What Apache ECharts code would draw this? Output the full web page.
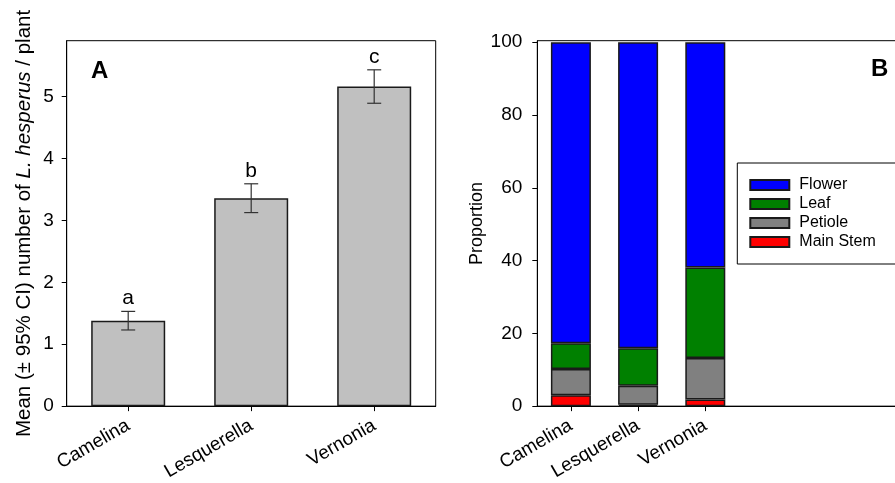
<!DOCTYPE html>
<html>
<head>
<meta charset="utf-8">
<script src="https://cdn.jsdelivr.net/npm/echarts@6/dist/echarts.min.js"></script>
<style>
  html, body { margin: 0; padding: 0; background: #fff; overflow: hidden; }
  #main { width: 950px; height: 483px; }
</style>
</head>
<body>
<div id="main"></div>
<script>
const categories = ["Camelina", "Lesquerella", "Vernonia"];
const meanCount = [1.38, 3.355, 5.16];
const ciLow = [1.23, 3.125, 4.89];
const ciHigh = [1.53, 3.59, 5.43];
const groupLetters = ["a", "b", "c"];
const mainStem = [3.0, 0.4, 1.8];
const petiole = [7.2, 5.2, 11.4];
const leaf = [7.1, 10.3, 24.9];
const flower = [82.7, 84.1, 61.9];
const leftTicks = [0, 1, 2, 3, 4, 5];
const rightTicks = [0, 20, 40, 60, 80, 100];

const FONT = "Liberation Sans, Arial, sans-serif";

let dom = document.getElementById("main");
let myChart = echarts.init(dom, null, { renderer: "canvas" });

// right panel has empty slots after the three plants
let rightCats = categories.concat(["", "", ""]);

let axisLine = { show: true, lineStyle: { color: "#000", width: 1 } };
let tick = { show: true, inside: false, length: 5, lineStyle: { color: "#000" } };
let barEdge = { borderColor: "#1a1a1a", borderWidth: 1.5 };

let option = {
    animation: false,
    textStyle: { fontFamily: FONT },
    grid: [
        { left: 66.7, top: 40.7, width: 369, height: 367.6, show: true, borderColor: "#000", borderWidth: 1, backgroundColor: "transparent" },
        { left: 537.3, top: 40.7, width: 403.2, height: 367.6, show: true, borderColor: "#000", borderWidth: 1, backgroundColor: "transparent" },
    ],
    xAxis: [{
        gridIndex: 0,
        type: "category",
        data: categories,
        axisLine: axisLine,
        axisTick: Object.assign({ alignWithLabel: true }, tick),
        axisLabel: { rotate: 30, fontSize: 19, color: "#000", margin: 18, fontFamily: FONT },
    }, {
        gridIndex: 1,
        type: "category",
        data: rightCats,
        axisLine: axisLine,
        axisTick: Object.assign({ alignWithLabel: true, interval: (i) => i < categories.length }, tick),
        axisLabel: { rotate: 30, fontSize: 19, color: "#000", margin: 18, interval: 0, fontFamily: FONT },
    }],
    yAxis: [{
        gridIndex: 0,
        type: "value",
        min: 0,
        max: 5.9,
        axisLine: axisLine,
        axisTick: Object.assign({ customValues: leftTicks }, tick),
        axisLabel: { customValues: leftTicks, fontSize: 19, color: "#000", margin: 13, fontFamily: FONT },
        splitLine: { show: false },
        name: "{n|Mean (± 95% CI) number of }{i|L. hesperus}{n| / plant}",
        nameLocation: "middle",
        nameRotate: 90,
        nameGap: 32,
        nameTextStyle: {
            rich: {
                n: { fontSize: 20.5, color: "#000", fontFamily: FONT },
                i: { fontSize: 20.5, color: "#000", fontStyle: "italic", fontFamily: FONT },
            },
        },
    }, {
        gridIndex: 1,
        type: "value",
        min: 0,
        max: 100.4,
        axisLine: axisLine,
        axisTick: Object.assign({ customValues: rightTicks }, tick),
        axisLabel: { customValues: rightTicks, fontSize: 19, color: "#000", margin: 15, fontFamily: FONT },
        splitLine: { show: false },
        name: "Proportion",
        nameLocation: "middle",
        nameRotate: 90,
        nameGap: 51,
        nameTextStyle: { fontSize: 18, color: "#000", fontFamily: FONT },
    }],
    legend: {
        orient: "vertical",
        left: 737.3,
        top: 163,
        data: ["Flower", "Leaf", "Petiole", "Main Stem"],
        icon: "rect",
        itemWidth: 39,
        itemHeight: 10,
        itemGap: 3,
        padding: [14, 60, 14, 12],
        borderColor: "#000",
        borderWidth: 1,
        textStyle: { fontSize: 16, color: "#000", lineHeight: 16, padding: [0, 0, 0, 5], fontFamily: FONT },
    },
    graphic: [
        { type: "text", x: 91, y: 71, style: { text: "A", font: "bold 24px " + FONT, fill: "#000", verticalAlign: "middle" } },
        { type: "text", x: 871, y: 69, style: { text: "B", font: "bold 24px " + FONT, fill: "#000", verticalAlign: "middle" } },
    ],
    series: [{
        type: "bar",
        xAxisIndex: 0,
        yAxisIndex: 0,
        data: meanCount,
        barWidth: 74,
        itemStyle: Object.assign({ color: "#c0c0c0" }, barEdge),
    }, {
        type: "custom",
        xAxisIndex: 0,
        yAxisIndex: 0,
        data: categories.map((c, i) => [i, ciLow[i], ciHigh[i]]),
        renderItem: function (params, api) {
            let x = api.value(0);
            let lo = api.coord([x, api.value(1)]);
            let hi = api.coord([x, api.value(2)]);
            let st = { stroke: "#333", lineWidth: 1.2 };
            return {
                type: "group",
                children: [
                    { type: "line", shape: { x1: lo[0], y1: lo[1], x2: hi[0], y2: hi[1] }, style: st },
                    { type: "line", shape: { x1: lo[0] - 7, y1: lo[1], x2: lo[0] + 7, y2: lo[1] }, style: st },
                    { type: "line", shape: { x1: hi[0] - 7, y1: hi[1], x2: hi[0] + 7, y2: hi[1] }, style: st },
                    { type: "text", x: hi[0], y: hi[1] - 13, style: { text: groupLetters[params.dataIndex], font: "21px " + FONT, fill: "#000", align: "center", verticalAlign: "middle" } },
                ],
            };
        },
        z: 5,
    },
    { name: "Main Stem", type: "bar", stack: "p", xAxisIndex: 1, yAxisIndex: 1, data: mainStem, barWidth: 40, itemStyle: Object.assign({ color: "#ff0000" }, barEdge) },
    { name: "Petiole", type: "bar", stack: "p", xAxisIndex: 1, yAxisIndex: 1, data: petiole, barWidth: 40, itemStyle: Object.assign({ color: "#808080" }, barEdge) },
    { name: "Leaf", type: "bar", stack: "p", xAxisIndex: 1, yAxisIndex: 1, data: leaf, barWidth: 40, itemStyle: Object.assign({ color: "#008000" }, barEdge) },
    { name: "Flower", type: "bar", stack: "p", xAxisIndex: 1, yAxisIndex: 1, data: flower, barWidth: 40, itemStyle: Object.assign({ color: "#0000ff" }, barEdge) },
    ],
};

myChart.setOption(option);
window.addEventListener("resize", myChart.resize);
</script>
</body>
</html>
